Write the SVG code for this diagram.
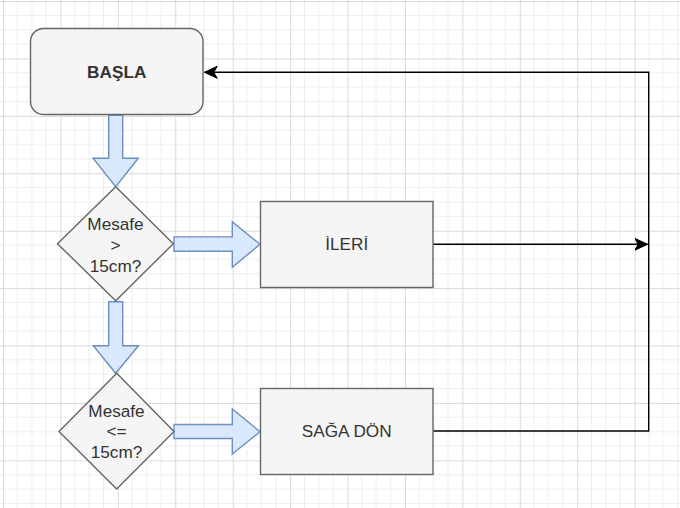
<svg xmlns="http://www.w3.org/2000/svg" width="680" height="508" viewBox="0 0 680 508">
<style>
.box{fill:#f5f5f5;stroke:#666666;stroke-width:1.4}
.barrow{fill:#dae8fc;stroke:#6c8ebf;stroke-width:1.4;stroke-linejoin:miter}
.lbl{font-family:"Liberation Sans",Arial,sans-serif;font-size:17.2px;fill:#333333;text-anchor:middle}
.bold{font-weight:bold}
.conn{fill:none;stroke:#000000;stroke-width:1.4}
.minor{stroke:#eeeeee;stroke-width:1}
.major{stroke:#d9d9d9;stroke-width:1}
</style>
<defs>
<pattern id="grid" patternUnits="userSpaceOnUse" x="3" y="1" width="57.42" height="57.42">
<path class="minor" d="M14.355,0V57.42M28.71,0V57.42M43.065,0V57.42M0,14.355H57.42M0,28.71H57.42M0,43.065H57.42"/>
<path class="major" d="M0.5,0V57.42M0,0.5H57.42"/>
</pattern>
<marker id="arr" markerUnits="userSpaceOnUse" markerWidth="14" markerHeight="14" viewBox="-13 -7 14 14" refX="0" refY="0" orient="auto">
<path d="M0,0L-12.7,-6L-9.3,0L-12.7,6Z" fill="#000000" stroke="#000000" stroke-width="1"/>
</marker>
</defs>
<rect width="680" height="508" fill="#ffffff"/>
<rect width="680" height="508" fill="url(#grid)"/>
<g id="connectors">
<path class="conn" d="M433.3,244.3H647.5" marker-end="url(#arr)"/>
<path class="conn" d="M433.3,431H648.7V72.3H204.5" marker-end="url(#arr)"/>
</g>
<g id="arrow-start-to-d1">
<path class="barrow" d="M108.7,115.3H122.7V158.3H138.3L115.7,186.7L93.1,158.3H108.7Z"/>
</g>
<g id="arrow-d1-to-d2">
<path class="barrow" d="M108.7,301.7H122.7V345.7H138.5L115.7,373.3L93.3,345.7H108.7Z"/>
</g>
<g id="arrow-d1-to-ileri">
<path class="barrow" d="M174,236.9H232.3V221.7L260,244.3L232.3,267.3V251.3H174Z"/>
</g>
<g id="arrow-d2-to-saga">
<path class="barrow" d="M174,424.5H232.3V409L260,431.7L232.3,454V438.5H174Z"/>
</g>
<g id="basla">
<rect class="box" x="30.5" y="28.5" width="172.5" height="86" rx="13" ry="13"/>
<text class="lbl bold" x="116.7" y="78.2">BAŞLA</text>
</g>
<g id="decision1">
<path class="box" d="M115.7,186.7L173.3,243.7L115.7,300.7L57.5,243.7Z"/>
<text class="lbl"><tspan x="115.5" y="230.2">Mesafe</tspan><tspan x="115.5" y="250.9">&gt;</tspan><tspan x="115.5" y="271.5">15cm?</tspan></text>
</g>
<g id="ileri">
<rect class="box" x="260.5" y="201.5" width="172.5" height="86"/>
<text class="lbl" x="346.7" y="250.3">İLERİ</text>
</g>
<g id="decision2">
<path class="box" d="M116.7,373.3L174,431.5L116.7,489L59,431.5Z"/>
<text class="lbl"><tspan x="116.5" y="416.6">Mesafe</tspan><tspan x="116.5" y="437.3">&lt;=</tspan><tspan x="116.5" y="458">15cm?</tspan></text>
</g>
<g id="saga-don">
<rect class="box" x="260.5" y="388.5" width="172.5" height="86"/>
<text class="lbl" x="346.7" y="437.3">SAĞA DÖN</text>
</g>
</svg>
